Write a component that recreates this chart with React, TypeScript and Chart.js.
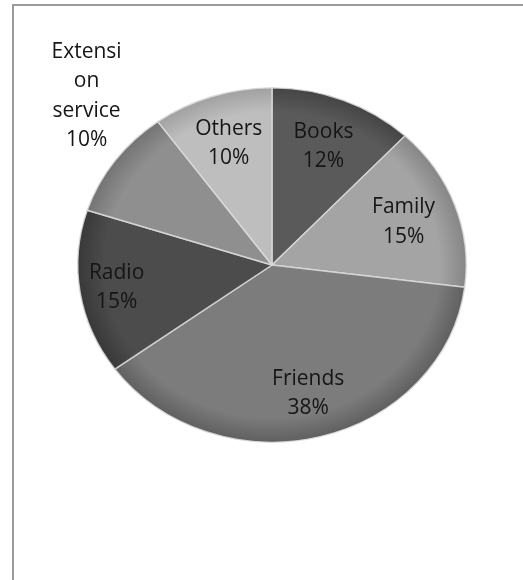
import React, { useEffect, useRef } from "react";
import { Chart, registerables } from "chart.js";

Chart.register(...registerables);

const categories = ["Books", "Family", "Friends", "Radio", "Extension service", "Others"];
const values = [12, 15, 38, 15, 10, 10];
const labelLines = [["Books"], ["Family"], ["Friends"], ["Radio"], ["Extensi", "on", "service"], ["Others"]];
const sliceColors = ["#5a5a5a", "#a4a4a4", "#7c7c7c", "#4c4c4c", "#8f8f8f", "#bebebe"];
const rimColors = ["#444444", "#858585", "#5f5f5f", "#383838", "#737373", "#a0a0a0"];

const labelRadius = [0.72, 0.72, 0.75, 0.81, 1.35, 0.72];
const labelAngleShift = [0, 0, 0, 0, 9, 0];
const Y_SCALE = 0.912;
const FONT = '21px "Open Sans", sans-serif';
const LINE_H = 29.5;

export default function App() {
  const ref = useRef<HTMLCanvasElement | null>(null);

  useEffect(() => {
    if (!ref.current) return;
    const ellipsePlugin = {
      id: "ellipse",
      beforeDatasetsDraw(chart: any) {
        const ctx = chart.ctx;
        const a = chart.chartArea;
        const cx = (a.left + a.right) / 2;
        const cy = (a.top + a.bottom) / 2;
        ctx.save();
        ctx.translate(cx, cy);
        ctx.scale(1, Y_SCALE);
        ctx.translate(-cx, -cy);
      },
      afterDatasetsDraw(chart: any) {
        const ctx = chart.ctx;
        ctx.restore();
        const meta = chart.getDatasetMeta(0);
        const data = chart.data.datasets[0].data as number[];
        const total = data.reduce((s, v) => s + v, 0);
        ctx.save();
        ctx.font = FONT;
        ctx.fillStyle = "#151515";
        ctx.textAlign = "center";
        ctx.textBaseline = "middle";
        meta.data.forEach((arc: any, i: number) => {
          const p = arc.getProps(["x", "y", "startAngle", "endAngle", "outerRadius"], true);
          const mid = (p.startAngle + p.endAngle) / 2 + (labelAngleShift[i] * Math.PI) / 180;
          const r = p.outerRadius * labelRadius[i];
          const x = p.x + Math.cos(mid) * r;
          const y = p.y + Math.sin(mid) * r * Y_SCALE;
          const pct = Math.round((data[i] / total) * 100) + "%";
          const lines = [...labelLines[i], pct];
          const startY = y - ((lines.length - 1) * LINE_H) / 2;
          lines.forEach((t, k) => ctx.fillText(t, x, startY + k * LINE_H));
        });
        ctx.restore();
      },
    };

    const chart = new Chart(ref.current, {
      type: "pie",
      data: {
        labels: categories,
        datasets: [
          {
            data: values,
            backgroundColor: (c: any) => {
              const i = c.dataIndex;
              const area = c.chart.chartArea;
              if (!area) return sliceColors[i];
              const cx = (area.left + area.right) / 2;
              const cy = (area.top + area.bottom) / 2;
              const r = Math.min(area.right - area.left, area.bottom - area.top) / 2;
              const g = c.chart.ctx.createRadialGradient(cx, cy, 0, cx, cy, r);
              g.addColorStop(0, sliceColors[i]);
              g.addColorStop(0.86, sliceColors[i]);
              g.addColorStop(1, rimColors[i]);
              return g;
            },
            borderColor: "rgba(220,220,220,0.85)",
            borderWidth: 1.5,
          },
        ],
      },
      options: {
        responsive: false,
        animation: false,
        layout: { padding: { left: 77, right: 56, top: 70, bottom: 120 } },
        plugins: {
          legend: { display: false },
          tooltip: { enabled: false },
        },
      },
      plugins: [ellipsePlugin],
    });
    return () => chart.destroy();
  }, []);

  return (
    <div style={{ position: "fixed", left: 0, top: 0, width: 523, height: 580, background: "#ffffff" }}>
      <div
        style={{
          position: "absolute",
          left: 12,
          top: 4,
          width: 511,
          height: 576,
          borderLeft: "2px solid #9c9c9c",
          borderTop: "2px solid #9c9c9c",
          boxSizing: "border-box",
        }}
      />
      <canvas ref={ref} width={523} height={580} style={{ position: "absolute", left: 0, top: 0, display: "block" }} />
    </div>
  );
}
